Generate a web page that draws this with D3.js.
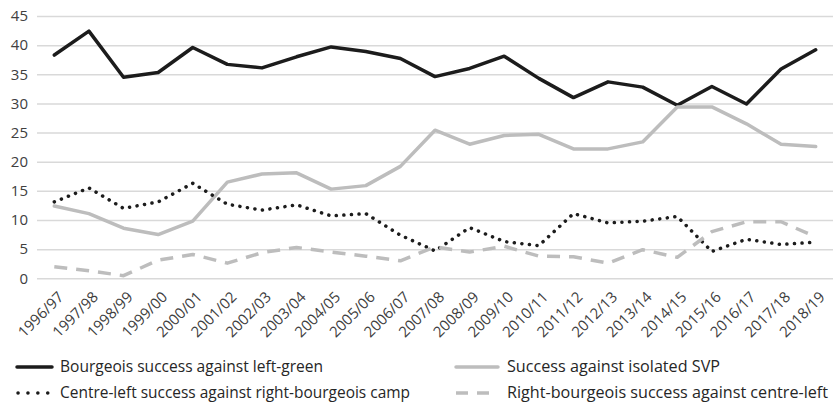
<!DOCTYPE html>
<html>
<head>
<meta charset="utf-8">
<script src="https://cdn.jsdelivr.net/npm/d3@7"></script>
<style>
  html, body { margin: 0; padding: 0; background: #fff; }
  svg { display: block; font-family: "Open Sans", sans-serif; }
</style>
</head>
<body>
<svg id="chart" width="833" height="406"></svg>
<script>
const categories = ["1996/97","1997/98","1998/99","1999/00","2000/01","2001/02","2002/03","2003/04","2004/05","2005/06","2006/07","2007/08","2008/09","2009/10","2010/11","2011/12","2012/13","2013/14","2014/15","2015/16","2016/17","2017/18","2018/19"];
const bourgeoisVsLeftGreen = [38.3,42.4,34.5,35.3,39.6,36.7,36.1,38.0,39.7,38.9,37.7,34.6,36.0,38.1,34.3,31.0,33.7,32.8,29.7,32.9,29.9,35.9,39.2];
const vsIsolatedSVP = [12.4,11.1,8.6,7.5,9.8,16.5,17.9,18.1,15.3,15.9,19.2,25.4,23.0,24.5,24.7,22.2,22.2,23.4,29.4,29.4,26.5,23.0,22.6];
const centreLeftVsRightBourgeois = [13.1,15.5,12.0,13.1,16.3,12.7,11.7,12.6,10.7,11.1,7.4,4.7,8.7,6.3,5.6,11.1,9.5,9.8,10.6,4.6,6.7,5.8,6.2];
const rightBourgeoisVsCentreLeft = [2.0,1.3,0.45,3.1,4.1,2.6,4.4,5.3,4.5,3.8,3.0,5.4,4.5,5.5,3.8,3.7,2.6,4.9,3.6,8.0,9.7,9.7,7.1];
const yTicks = [0,5,10,15,20,25,30,35,40,45];

const seriesNames = [
  "Bourgeois success against left-green",
  "Success against isolated SVP",
  "Centre-left success against right-bourgeois camp",
  "Right-bourgeois success against centre-left"
];

(function () {
const series = [
  {name: seriesNames[0], values: bourgeoisVsLeftGreen, color: "#1c1c1c", dash: null, cap: "round"},
  {name: seriesNames[1], values: vsIsolatedSVP, color: "#bdbdbd", dash: null, cap: "round"},
  {name: seriesNames[2], values: centreLeftVsRightBourgeois, color: "#1c1c1c", dash: "0.1 7.5", cap: "round"},
  {name: seriesNames[3], values: rightBourgeoisVsCentreLeft, color: "#bdbdbd", dash: "13 9", cap: "butt"}
];

const svg = d3.select("#chart");
const pLeft = 37, pRight = 833, pTop = 16, pBottom = 278.3;

const x = d3.scalePoint().domain(categories).range([pLeft, pRight]).padding(0.5);
const y = d3.scaleLinear().domain([0, 45]).range([pBottom, pTop]);

// gridlines
const grid = svg.append("g")
  .attr("transform", `translate(${pLeft},0)`)
  .call(d3.axisLeft(y).tickValues(yTicks).tickSize(-(pRight - pLeft)).tickFormat(""));
grid.select(".domain").remove();
grid.selectAll(".tick line").attr("stroke", "#d9d9d9").attr("stroke-width", 1.5);

// y labels
const yAxis = svg.append("g")
  .attr("transform", `translate(${pLeft},0)`)
  .call(d3.axisLeft(y).tickValues(yTicks).tickSize(0).tickPadding(9));
yAxis.select(".domain").remove();
yAxis.selectAll("text").attr("font-size", 15).attr("fill", "#404040").attr("font-family", "Open Sans");

// x labels
const xAxis = svg.append("g")
  .attr("transform", `translate(0,${pBottom})`)
  .call(d3.axisBottom(x).tickSize(0).tickPadding(0));
xAxis.select(".domain").remove();
xAxis.selectAll("text")
  .attr("font-size", 15).attr("fill", "#404040").attr("font-family", "Open Sans")
  .attr("text-anchor", "end")
  .attr("dy", "0.35em")
  .attr("transform", "translate(6,16) rotate(-45)");

// lines
const line = d3.line().x((d, i) => x(categories[i])).y(d => y(d));
series.forEach(s => {
  svg.append("path")
    .datum(s.values)
    .attr("fill", "none")
    .attr("stroke", s.color)
    .attr("stroke-width", 3.5)
    .attr("stroke-linejoin", "round")
    .attr("stroke-linecap", s.cap)
    .attr("stroke-dasharray", s.dash)
    .attr("d", line);
});

// legend
const legendPos = [[17, 367], [456, 367], [17, 393], [456, 393]];
const legendDash = [null, null, "0.1 9.8", "12 9"];
const legendX1 = [0, 0, 1, 0];
const legendX2 = [35, 42, 31, 42];
const legendTextLen = [263, 213, 350, 321];
series.forEach((s, i) => {
  const [lx, ly] = legendPos[i];
  const g = svg.append("g").attr("transform", `translate(${lx},${ly})`);
  g.append("line")
    .attr("x1", legendX1[i]).attr("x2", legendX2[i]).attr("y1", 0).attr("y2", 0)
    .attr("stroke", s.color).attr("stroke-width", 3.5)
    .attr("stroke-linecap", i === 3 ? "butt" : "round")
    .attr("stroke-dasharray", legendDash[i]);
  g.append("text")
    .attr("x", i % 2 === 0 ? 43 : 51).attr("y", 0).attr("dy", "0.33em")
    .attr("font-size", 16).attr("fill", "#262626").attr("font-family", "Open Sans")
    .attr("textLength", legendTextLen[i])
    .attr("lengthAdjust", "spacingAndGlyphs")
    .text(s.name);
});
})();
</script>
</body>
</html>
